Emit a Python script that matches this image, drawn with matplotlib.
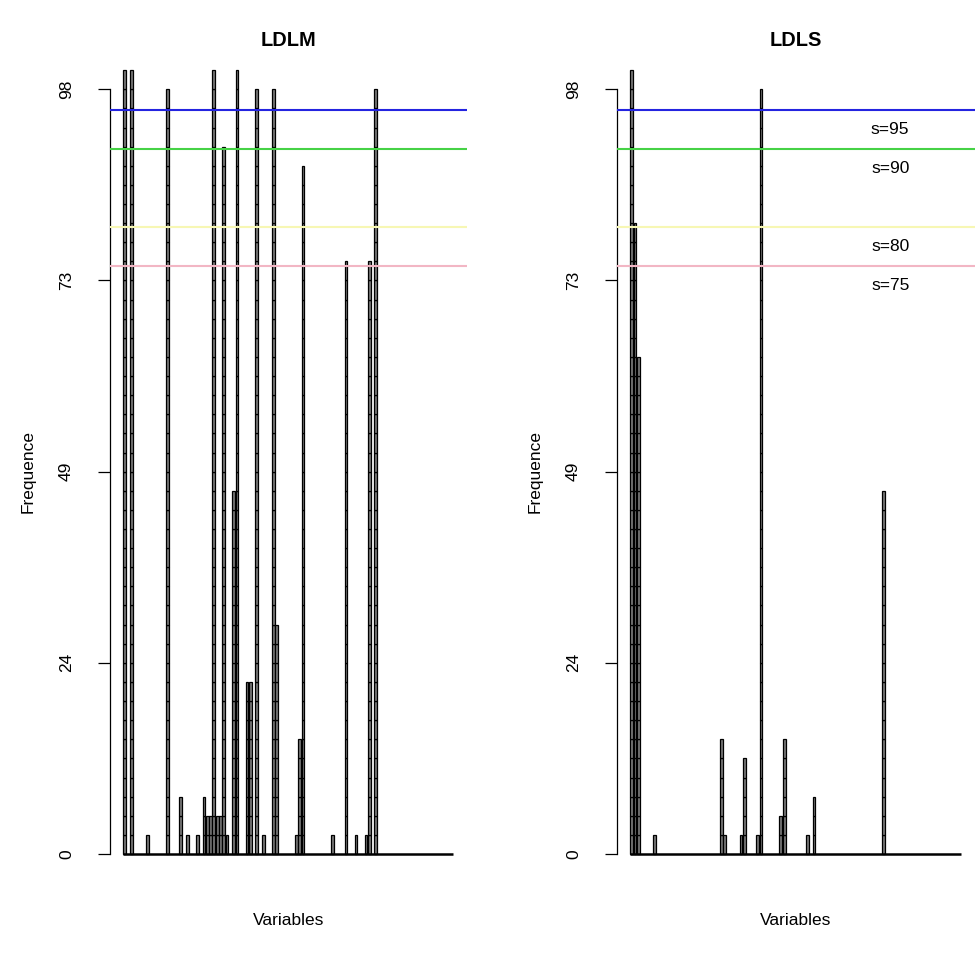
import numpy as np
import matplotlib.pyplot as plt

plt.rcParams['font.family'] = ['Liberation Sans', 'DejaVu Sans']

n_vars = 100
seg = 2.45  # height of one stacked unit on the frequency axis

# variable index -> number of stacked units
ldlm_idx = [0, 2, 7, 13, 17, 19, 22, 24, 25, 26, 27, 28, 29, 30, 31, 33, 34,
            37, 38, 40, 42, 45, 46, 52, 53, 54, 63, 67, 70, 73, 74, 76]
ldlm_segs = [41, 41, 1, 40, 3, 1, 1, 3, 2, 2, 41, 2, 2, 37, 1, 19, 41,
             9, 9, 40, 1, 40, 12, 1, 6, 36, 1, 31, 1, 1, 31, 40]

ldls_idx = [0, 1, 2, 7, 27, 28, 33, 34, 38, 39, 45, 46, 53, 55, 76]
ldls_segs = [41, 33, 26, 1, 6, 1, 1, 5, 1, 40, 2, 6, 1, 3, 19]

thresholds = [95.4, 90.3, 80.3, 75.3]
thr_labels = ['s=95', 's=90', 's=80', 's=75']
thr_colors = ['#2424e0', '#46d246', '#f7f7b4', '#f2b6c4']

yticks = [0, 24.5, 49, 73.5, 98]
ytick_labels = ['0', '24', '49', '73', '98']

fs = 12.5


def draw_panel(ax, idx, segs, title):
    counts = np.zeros(n_vars, dtype=int)
    counts[idx] = segs
    x = 0.7 + 1.2 * np.arange(n_vars)
    # baseline under the empty bars
    ax.hlines(0, x[0] - 0.5, x[-1] + 0.5, color='black', lw=1.8, clip_on=False)
    for k in range(counts.max()):
        on = counts > k
        ax.bar(x[on], seg, width=1, bottom=k * seg, color='#7a7a7a',
               edgecolor='black', linewidth=0.9, clip_on=False)
    for t, c in zip(thresholds, thr_colors):
        ax.axhline(t, color=c, lw=1.5, zorder=3)

    ax.set_xlim(-4.6, 125.0)
    ax.set_ylim(-3.92, 101.92)
    for s in ['top', 'right', 'bottom']:
        ax.spines[s].set_visible(False)
    ax.spines['left'].set_bounds(0, 98)
    ax.spines['left'].set_linewidth(0.9)
    ax.set_xticks([])
    ax.set_yticks(yticks, ytick_labels)
    ax.tick_params(axis='y', length=9, width=0.9, pad=17, labelsize=fs, labelrotation=90)
    for lab in ax.get_yticklabels():
        lab.set_va('center')

    ax.text(0.5, 1.0226, title, transform=ax.transAxes, ha='center', va='center',
            fontsize=fs * 1.15, fontweight='bold')
    ax.text(-0.229, 0.5, 'Frequence', transform=ax.transAxes, ha='center', va='center',
            rotation=90, fontsize=fs)
    ax.text(0.5, -0.043, 'Variables', transform=ax.transAxes, ha='center', va='center',
            fontsize=fs)


fig = plt.figure(figsize=(9.8, 9.57), dpi=100)
bottom = 1 - 884.6 / 957
height = (884.6 - 58.7) / 957
ax1 = fig.add_axes([110 / 980, bottom, 357 / 980, height])
ax2 = fig.add_axes([617 / 980, bottom, 358 / 980, height])

draw_panel(ax1, ldlm_idx, ldlm_segs, 'LDLM')
draw_panel(ax2, ldls_idx, ldls_segs, 'LDLS')

for t, lab in zip(thresholds, thr_labels):
    ax2.text(0.7 + 1.2 * 78, t - 2.5, lab, ha='center', va='center', fontsize=fs)

fig.savefig('out.png', dpi=100)
